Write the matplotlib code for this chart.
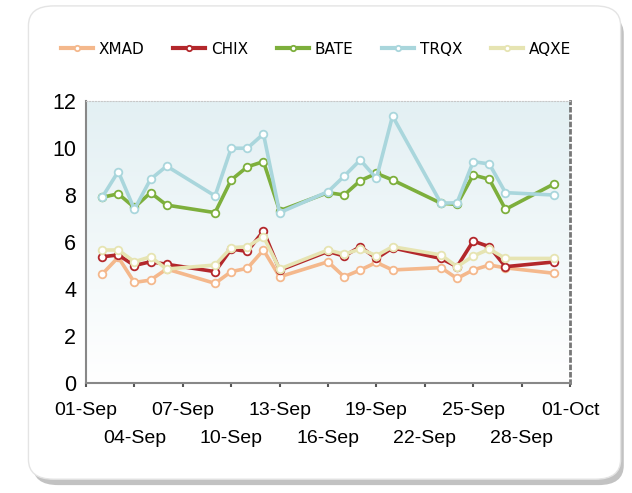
import numpy as np
import pandas as pd
import matplotlib
matplotlib.use('Agg')
import matplotlib.pyplot as plt
from matplotlib.patches import FancyBboxPatch

plt.rcParams['font.family'] = ['Liberation Sans', 'DejaVu Sans']

dates = pd.to_datetime(['2013-09-02', '2013-09-03', '2013-09-04', '2013-09-05', '2013-09-06',
                        '2013-09-09', '2013-09-10', '2013-09-11', '2013-09-12', '2013-09-13',
                        '2013-09-16', '2013-09-17', '2013-09-18', '2013-09-19', '2013-09-20',
                        '2013-09-23', '2013-09-24', '2013-09-25', '2013-09-26', '2013-09-27',
                        '2013-09-30'])

xmad = [4.63, 5.35, 4.28, 4.38, 4.85, 4.24, 4.74, 4.88, 5.66, 4.52,
        5.16, 4.52, 4.81, 5.13, 4.81, 4.91, 4.45, 4.81, 5.02, 4.90, 4.67]
chix = [5.37, 5.45, 5.00, 5.16, 5.05, 4.74, 5.70, 5.60, 6.47, 4.80,
        5.60, 5.40, 5.80, 5.30, 5.75, 5.30, 4.95, 6.04, 5.80, 4.95, 5.15]
bate = [7.90, 8.05, 7.47, 8.10, 7.57, 7.25, 8.64, 9.20, 9.42, 7.33,
        8.10, 8.00, 8.61, 8.92, 8.64, 7.65, 7.60, 8.85, 8.67, 7.39, 8.47]
trqx = [7.90, 9.00, 7.39, 8.67, 9.23, 7.96, 9.99, 9.99, 10.60, 7.25,
        8.14, 8.80, 9.49, 8.71, 11.36, 7.65, 7.67, 9.42, 9.32, 8.10, 8.00]
aqxe = [5.66, 5.66, 5.16, 5.37, 4.85, 5.02, 5.76, 5.80, 6.23, 4.85,
        5.66, 5.48, 5.70, 5.42, 5.80, 5.45, 4.95, 5.40, 5.70, 5.30, 5.30]

names = ['XMAD', 'CHIX', 'BATE', 'TRQX', 'AQXE']
series = [xmad, chix, bate, trqx, aqxe]
colors = ['#f4b88c', '#b3272b', '#7daf3c', '#a9d6dc', '#e6e4b2']

tick_dates = pd.date_range('2013-09-01', '2013-10-01', freq='3D')
tick_labels = [d.strftime('%d-%b') for d in tick_dates]
yticks = [0, 2, 4, 6, 8, 10, 12]

fig = plt.figure(figsize=(6.32, 4.93), dpi=100)

# card with shadow
shadow = FancyBboxPatch((0.052, 0.016), 0.935, 0.955, boxstyle='round,pad=0,rounding_size=0.04',
                        transform=fig.transFigure, facecolor='#9a9a9a', edgecolor='none',
                        alpha=0.6, zorder=-2)
card = FancyBboxPatch((0.045, 0.028), 0.937, 0.96, boxstyle='round,pad=0,rounding_size=0.04',
                      transform=fig.transFigure, facecolor='white', edgecolor='#e4e4e4',
                      linewidth=1, zorder=-1)
fig.patches.extend([shadow, card])

ax = fig.add_axes([86 / 632, 1 - 383 / 493, (570 - 86) / 632, (383 - 101) / 493])
ax.set_zorder(2)
ax.set_facecolor('none')

# gradient background
grad = np.linspace(0, 1, 256).reshape(-1, 1)
ax.imshow(grad, extent=[0, 1, 0, 1], transform=ax.transAxes, aspect='auto',
          cmap=matplotlib.colors.LinearSegmentedColormap.from_list('bg', ['#ffffff', '#e3f0f3']),
          origin='lower', zorder=0)

for name, vals, c in zip(names, series, colors):
    ax.plot(dates, vals, color=c, lw=2.6, marker='o', ms=5.5, mfc='white', mec=c, mew=1.3,
            label=name, zorder=3, solid_joinstyle='round')

ax.set_xlim(pd.Timestamp('2013-09-01'), pd.Timestamp('2013-10-01'))
ax.set_ylim(0, 12)
ax.set_yticks(yticks)
ax.set_yticklabels([str(v) for v in yticks], fontsize=15.5)

# alternate the date labels on two rows
ax.set_xticks(tick_dates[::2])
ax.set_xticklabels(tick_labels[::2], fontsize=14)
ax.set_xticks(tick_dates[1::2], minor=True)
ax.set_xticklabels(tick_labels[1::2], minor=True, fontsize=14)
ax.tick_params(axis='x', which='major', length=3, width=1.5, color='#555555', pad=11)
ax.tick_params(axis='x', which='minor', length=3, width=1.5, color='#555555', pad=31)
ax.tick_params(axis='y', length=0, pad=7)

for s in ['left', 'bottom']:
    ax.spines[s].set_color('#888888')
    ax.spines[s].set_linewidth(1.5)
ax.spines['top'].set_color('#c8c8c8')
ax.spines['top'].set_linestyle(':')
ax.spines['right'].set_color('#777777')
ax.spines['right'].set_linestyle(':')
ax.spines['right'].set_linewidth(2)

leg = fig.legend(loc='center', bbox_to_anchor=(0.5, 1 - 49 / 493), ncol=5, frameon=False,
                 prop={'family': 'DejaVu Sans', 'size': 11}, handlelength=2.1,
                 handletextpad=0.35, columnspacing=1.9, markerscale=0.7)
for line in leg.get_lines():
    line.set_linewidth(3)

fig.savefig('out.png', dpi=100)
